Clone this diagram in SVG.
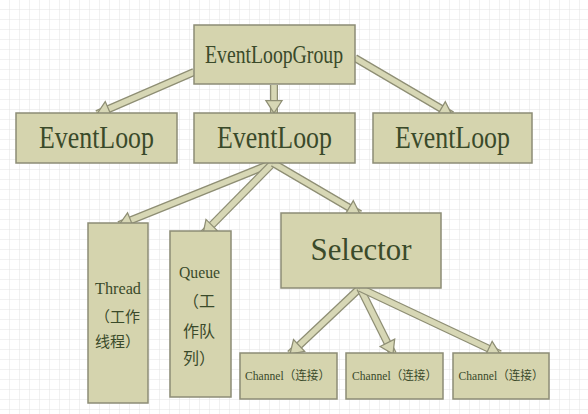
<svg xmlns="http://www.w3.org/2000/svg" width="588" height="414" viewBox="0 0 588 414">
<defs>
<pattern id="grid" width="10" height="10" patternUnits="userSpaceOnUse">
<path d="M10 0V10M0 10H10" fill="none" stroke="#e3e3e3" stroke-width="1"/>
</pattern>
<marker id="head" markerUnits="userSpaceOnUse" markerWidth="20" markerHeight="20" refX="10" refY="0" viewBox="-1 -8 12 16" orient="auto" overflow="visible">
<path d="M0,-6.5 L10,0 L0,6.5 Z" fill="#d7d7b5" stroke="#8e8e74" stroke-width="1"/>
</marker>
<style>
.box{fill:#d5d4ae;stroke:#8c8c76;stroke-width:1.5}
.t{fill:#3a4a2a;font-family:"Liberation Serif","Noto Sans CJK SC",serif}
.m{text-anchor:middle}
.so{stroke:#8e8e74;stroke-width:8;fill:none}
.si{stroke:#d7d7b5;stroke-width:5.5;fill:none;marker-end:url(#head)}
</style>
</defs>
<rect width="588" height="414" fill="#ffffff"/>
<rect width="588" height="414" fill="url(#grid)"/>

<g id="connectors">
<line class="so" x1="194" y1="72" x2="97" y2="114"/>
<line class="si" x1="194" y1="72" x2="97" y2="114"/>
<line class="so" x1="274" y1="85" x2="274" y2="113"/>
<line class="si" x1="274" y1="85" x2="274" y2="113"/>
<line class="so" x1="355" y1="58" x2="452" y2="115"/>
<line class="si" x1="355" y1="58" x2="452" y2="115"/>
<line class="so" x1="273" y1="163" x2="119" y2="225"/>
<line class="si" x1="273" y1="163" x2="119" y2="225"/>
<line class="so" x1="273" y1="163" x2="203" y2="234"/>
<line class="si" x1="273" y1="163" x2="203" y2="234"/>
<line class="so" x1="273" y1="163" x2="360" y2="214"/>
<line class="si" x1="273" y1="163" x2="360" y2="214"/>
<line class="so" x1="360" y1="288" x2="290" y2="354"/>
<line class="si" x1="360" y1="288" x2="290" y2="354"/>
<line class="so" x1="360" y1="288" x2="393" y2="354"/>
<line class="si" x1="360" y1="288" x2="393" y2="354"/>
<line class="so" x1="360" y1="288" x2="500" y2="354"/>
<line class="si" x1="360" y1="288" x2="500" y2="354"/>
</g>

<g id="eventLoopGroup">
<rect class="box" x="194" y="25" width="161" height="59"/>
<text class="t m" x="274" y="63" font-size="26" textLength="138" lengthAdjust="spacingAndGlyphs">EventLoopGroup</text>
</g>
<g id="eventLoop1">
<rect class="box" x="16" y="113" width="161" height="50"/>
<text class="t m" x="96.5" y="148" font-size="31" textLength="115" lengthAdjust="spacingAndGlyphs">EventLoop</text>
</g>
<g id="eventLoop2">
<rect class="box" x="194" y="113" width="161" height="50"/>
<text class="t m" x="274.5" y="148" font-size="31" textLength="115" lengthAdjust="spacingAndGlyphs">EventLoop</text>
</g>
<g id="eventLoop3">
<rect class="box" x="373" y="113" width="159" height="50"/>
<text class="t m" x="452.5" y="148" font-size="31" textLength="115" lengthAdjust="spacingAndGlyphs">EventLoop</text>
</g>
<g id="thread">
<rect class="box" x="88" y="223" width="60" height="180"/>
<text class="t m" x="118" y="294" font-size="17" textLength="46" lengthAdjust="spacingAndGlyphs">Thread</text>
<text class="t" x="95" y="322" font-size="15">（工作</text>
<text class="t" x="95" y="347" font-size="15">线程）</text>
</g>
<g id="queue">
<rect class="box" x="170" y="231" width="61" height="166"/>
<text class="t m" x="199.5" y="278" font-size="17" textLength="41" lengthAdjust="spacingAndGlyphs">Queue</text>
<text class="t" x="183" y="307" font-size="16">（工</text>
<text class="t" x="183" y="337" font-size="16">作队</text>
<text class="t" x="183" y="364" font-size="16">列）</text>
</g>
<g id="selector">
<rect class="box" x="281" y="213" width="160" height="75"/>
<text class="t m" x="361" y="260" font-size="32" textLength="101" lengthAdjust="spacingAndGlyphs">Selector</text>
</g>
<g id="channel1">
<rect class="box" x="240" y="353" width="97" height="46"/>
<text class="t m" x="287.5" y="380" font-size="12" textLength="85" lengthAdjust="spacingAndGlyphs">Channel（连接）</text>
</g>
<g id="channel2">
<rect class="box" x="346" y="353" width="97" height="46"/>
<text class="t m" x="394.5" y="380" font-size="12" textLength="85" lengthAdjust="spacingAndGlyphs">Channel（连接）</text>
</g>
<g id="channel3">
<rect class="box" x="453" y="353" width="96" height="46"/>
<text class="t m" x="501" y="380" font-size="12" textLength="85" lengthAdjust="spacingAndGlyphs">Channel（连接）</text>
</g>
</svg>
